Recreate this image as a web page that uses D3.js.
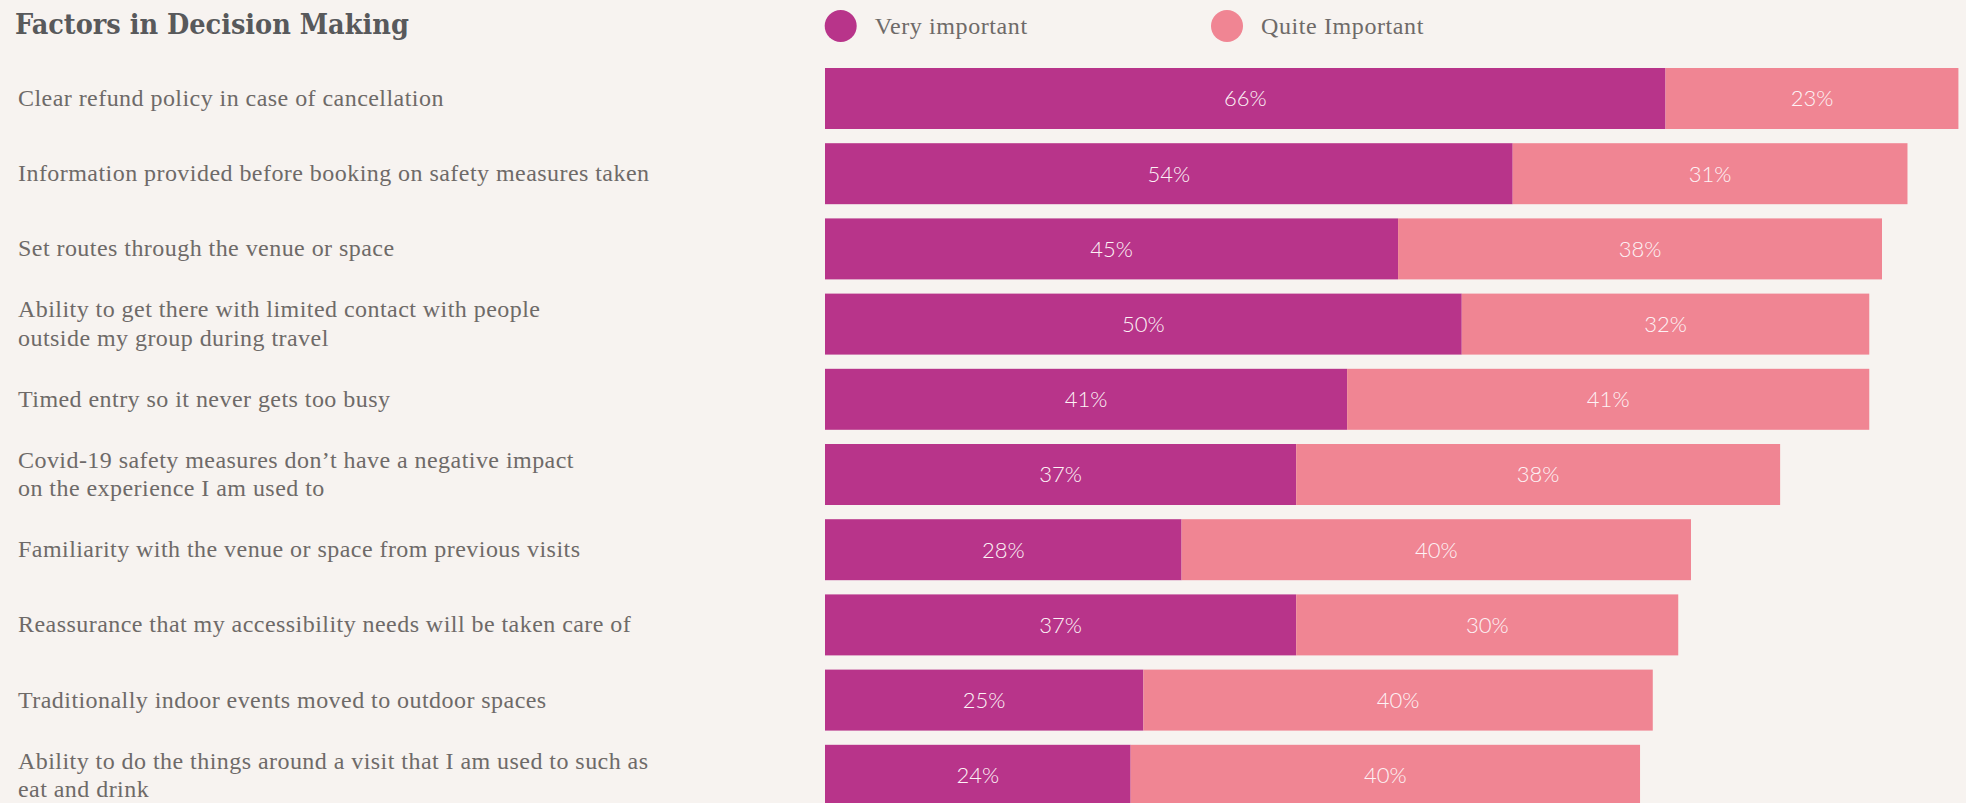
<!DOCTYPE html>
<html>
<head>
<meta charset="utf-8">
<script src="https://cdn.jsdelivr.net/npm/d3@7"></script>
<style>
  html, body { margin: 0; padding: 0; background: #f7f3f0; overflow: hidden; }
  svg { display: block; }
</style>
</head>
<body>
<svg id="chart" width="1966" height="803"></svg>
<script>
// ---- data ----
const title = "Factors in Decision Making";
const categories = [
  "Clear refund policy in case of cancellation",
  "Information provided before booking on safety measures taken",
  "Set routes through the venue or space",
  "Ability to get there with limited contact with people\noutside my group during travel",
  "Timed entry so it never gets too busy",
  "Covid-19 safety measures don\u2019t have a negative impact\non the experience I am used to",
  "Familiarity with the venue or space from previous visits",
  "Reassurance that my accessibility needs will be taken care of",
  "Traditionally indoor events moved to outdoor spaces",
  "Ability to do the things around a visit that I am used to such as\neat and drink"
];
const seriesNames = ["Very important", "Quite Important"];
const veryImportant = [66, 54, 45, 50, 41, 37, 28, 37, 25, 24];
const quiteImportant = [23, 31, 38, 32, 41, 38, 40, 30, 40, 40];
const colors = ["#b8348a", "#f08593"];

// ---- layout ----
const svg = d3.select("#chart");
const W = 1966, H = 803;
svg.append("rect").attr("width", W).attr("height", H).attr("fill", "#f7f3f0");

const x = d3.scaleLinear().domain([0, 100]).range([825, 2098.5]);
const y = d3.scaleBand()
  .domain(categories)
  .range([60.9, 60.9 + 75.2 * categories.length])
  .paddingInner(0.189)
  .paddingOuter(0.0945);

const rows = categories.map((c, i) => ({
  cat: c,
  vals: [veryImportant[i], quiteImportant[i]]
}));

const labelFont = "'Liberation Serif', serif";

// title
svg.append("text")
  .attr("x", 15).attr("y", 34)
  .attr("font-family", "'DejaVu Serif Condensed', 'DejaVu Serif', serif")
  .attr("font-weight", "bold")
  .attr("font-size", 28.5)
  .attr("fill", "#58595b")
  .text(title);

// legend
const legendX = [840.7, 1227];
const lg = svg.append("g").selectAll("g").data(seriesNames).join("g");
lg.append("circle")
  .attr("cx", (d, i) => legendX[i]).attr("cy", 26).attr("r", 16)
  .attr("fill", (d, i) => colors[i]);
lg.append("text")
  .attr("x", (d, i) => legendX[i] + 34).attr("y", 34)
  .attr("font-family", labelFont)
  .attr("font-size", 24)
  .attr("letter-spacing", 0.6)
  .attr("fill", "#6e6a68")
  .text(d => d);

// category labels
const lab = svg.append("g").selectAll("text").data(rows).join("text")
  .attr("font-family", labelFont)
  .attr("font-size", 24)
  .attr("letter-spacing", 0.45)
  .attr("fill", "#6e6a68")
  .attr("transform", d => `translate(18, ${y(d.cat) + y.bandwidth() / 2})`);
lab.each(function(d) {
  const lines = d.cat.split("\n");
  const lh = 28.4;
  const t = d3.select(this);
  lines.forEach((ln, j) => {
    t.append("tspan")
      .attr("x", 0)
      .attr("y", 7.5 + (j - (lines.length - 1) / 2) * lh)
      .text(ln);
  });
});

// bars
const bars = svg.append("g").selectAll("g").data(rows).join("g");
bars.each(function(d) {
  const g = d3.select(this);
  let acc = 0;
  d.vals.forEach((v, k) => {
    const x0 = x(acc), x1 = x(acc + v);
    g.append("rect")
      .attr("x", x0).attr("y", y(d.cat))
      .attr("width", x1 - x0).attr("height", y.bandwidth())
      .attr("fill", colors[k]);
    g.append("text")
      .attr("x", (x0 + x1) / 2)
      .attr("y", y(d.cat) + y.bandwidth() / 2)
      .attr("dy", "0.36em")
      .attr("text-anchor", "middle")
      .attr("font-family", "Lato, sans-serif")
      .attr("font-weight", 300)
      .attr("font-size", 22)
      .attr("fill", "#fdf3f6")
      .text(v + "%");
    acc += v;
  });
});
</script>
</body>
</html>
